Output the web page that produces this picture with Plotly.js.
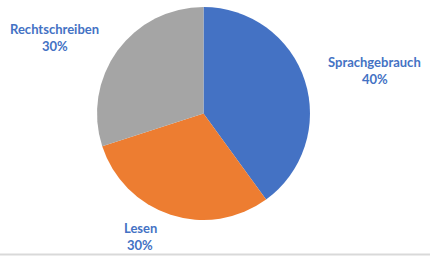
<!DOCTYPE html>
<html><head><meta charset="utf-8">
<script src="https://cdn.plot.ly/plotly-3.0.1.min.js"></script>
<style>html,body{margin:0;padding:0;background:#fff}#chart{width:430px;height:257px}</style>
</head><body><div id="chart"></div>
<script>
const categories = ["Sprachgebrauch", "Lesen", "Rechtschreiben"];
const values = [40, 30, 30];
const colors = ["#4472C4", "#ED7D31", "#A5A5A5"];
// label anchor positions (paper coords) for each category
const labelX = [0.872, 0.326, 0.127];
const labelY = [0.757, 0.113, 0.887];

const total = values.reduce((a, b) => a + b, 0);
const labelFont = {family: "Lato, 'Liberation Sans', sans-serif", size: 13, color: "#4472C4"};
const annotations = [];
categories.forEach((c, i) => {
  const pct = Math.round(values[i] / total * 100) + "%";
  annotations.push({xref: "paper", yref: "paper", x: labelX[i], y: labelY[i], text: "<b>" + c + "</b>",
    showarrow: false, font: labelFont, xanchor: "center", yanchor: "middle"});
  annotations.push({xref: "paper", yref: "paper", x: labelX[i], y: labelY[i] - 0.065, text: "<b>" + pct + "</b>",
    showarrow: false, font: labelFont, xanchor: "center", yanchor: "middle"});
});

Plotly.newPlot("chart", [{
  type: "pie",
  labels: categories,
  values: values,
  marker: {colors: colors, line: {width: 0}},
  sort: false,
  direction: "clockwise",
  rotation: 0,
  textinfo: "none",
  hoverinfo: "none",
  showlegend: false,
  domain: {x: [0.2256, 0.7209], y: [0.144, 0.973]}
}], {
  width: 430, height: 257,
  margin: {l: 0, r: 0, t: 0, b: 0},
  paper_bgcolor: "#fff",
  showlegend: false,
  annotations: annotations,
  shapes: [{type: "line", xref: "paper", yref: "paper", x0: 0, x1: 1, y0: 0.01, y1: 0.01, line: {color: "#D9D9D9", width: 2}}]
}, {staticPlot: true, displayModeBar: false});
</script></body></html>
